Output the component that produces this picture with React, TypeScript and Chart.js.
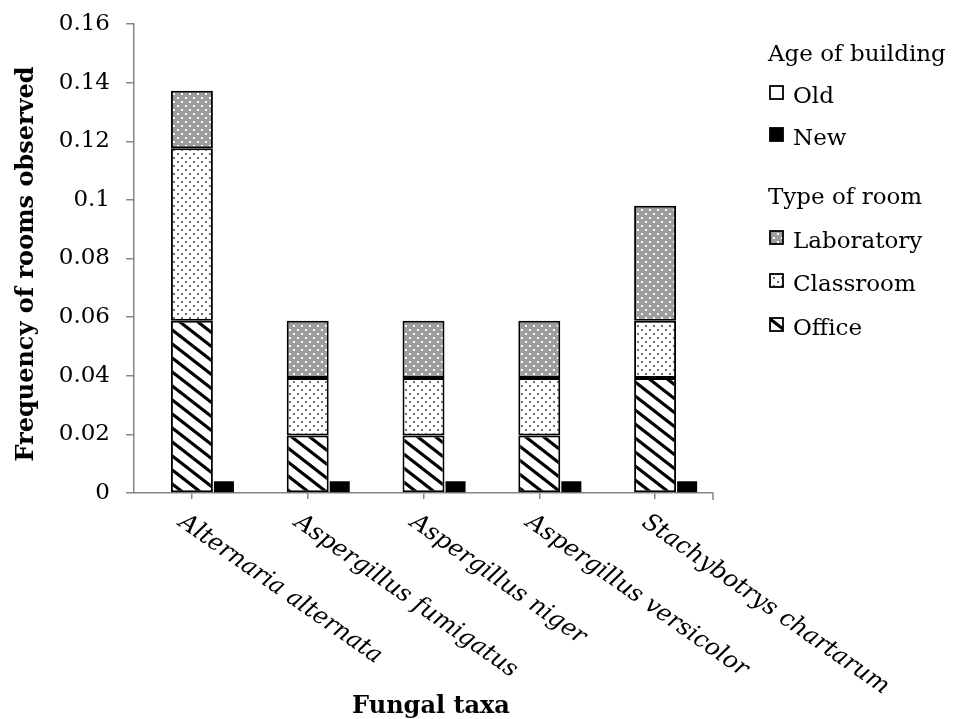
import React, { useEffect, useRef } from 'react';
import { Chart, registerables } from 'chart.js';

Chart.register(...registerables);

const categories = [
  'Alternaria alternata',
  'Aspergillus fumigatus',
  'Aspergillus niger',
  'Aspergillus versicolor',
  'Stachybotrys chartarum',
];
const officeValues = [0.0588, 0.0196, 0.0196, 0.0196, 0.0392];
const classroomValues = [0.0588, 0.0196, 0.0196, 0.0196, 0.0196];
const laboratoryValues = [0.0196, 0.0196, 0.0196, 0.0196, 0.0392];
const newBuildingValues = [0.004, 0.004, 0.004, 0.004, 0.004];
const yTickLabels = ['0', '0.02', '0.04', '0.06', '0.08', '0.1', '0.12', '0.14', '0.16'];
const ageLegendTitle = 'Age of building';
const ageLegendLabels = ['Old', 'New'];
const roomLegendTitle = 'Type of room';
const roomLegendLabels = ['Laboratory', 'Classroom', 'Office'];
const xAxisTitle = 'Fungal taxa';
const yAxisTitle = 'Frequency of rooms observed';

const SERIF = '"DejaVu Serif", "Liberation Serif", serif';
const AXIS = '#868686';
const CP = 0.83;

function makePattern(kind: string): CanvasPattern | string {
  const c = document.createElement('canvas');
  if (kind === 'office') {
    const w = 18, h = 14;
    c.width = w; c.height = h;
    const g = c.getContext('2d')!;
    g.fillStyle = '#fff';
    g.fillRect(0, 0, w, h);
    g.strokeStyle = '#000';
    g.lineWidth = 3.2;
    for (let k = -2; k <= 2; k++) {
      g.beginPath();
      g.moveTo(k * w - w, -h);
      g.lineTo(k * w + 2 * w, 2 * h);
      g.stroke();
    }
  } else if (kind === 'classroom') {
    const w = 8, h = 8;
    c.width = w; c.height = h;
    const g = c.getContext('2d')!;
    g.fillStyle = '#fff';
    g.fillRect(0, 0, w, h);
    g.fillStyle = '#707070';
    g.fillRect(1, 1, 2, 2);
    g.fillRect(5, 5, 2, 2);
  } else {
    const w = 8, h = 8;
    c.width = w; c.height = h;
    const g = c.getContext('2d')!;
    g.fillStyle = '#9e9e9e';
    g.fillRect(0, 0, w, h);
    g.fillStyle = '#8a8a8a';
    g.fillRect(3, 1, 1, 1);
    g.fillRect(7, 5, 1, 1);
    g.fillRect(1, 3, 1, 1);
    g.fillRect(5, 7, 1, 1);
    g.fillStyle = '#ffffff';
    g.fillRect(1, 1, 2, 2);
    g.fillRect(5, 5, 2, 2);
  }
  const ctx = document.createElement('canvas').getContext('2d')!;
  return ctx.createPattern(c, 'repeat') || '#999';
}

export default function App() {
  const ref = useRef<HTMLCanvasElement>(null);

  useEffect(() => {
    document.body.style.margin = '0';
    const canvas = ref.current!;
    const officeP = makePattern('office');
    const classroomP = makePattern('classroom');
    const labP = makePattern('laboratory');

    const overlay = {
      id: 'overlay',
      afterDraw(chart: any) {
        const { ctx, chartArea, scales } = chart;
        const xs = scales.x;
        ctx.save();
        // end tick of x axis
        ctx.strokeStyle = AXIS;
        ctx.lineWidth = 1.5;
        ctx.beginPath();
        ctx.moveTo(chartArea.right, chartArea.bottom);
        ctx.lineTo(chartArea.right, chartArea.bottom + 7);
        ctx.stroke();

        // rotated category labels
        ctx.fillStyle = '#000';
        ctx.font = `italic 24px ${SERIF}`;
        ctx.textAlign = 'left';
        ctx.textBaseline = 'top';
        categories.forEach((c, i) => {
          const px = xs.getPixelForValue(i);
          ctx.save();
          ctx.translate(px - 4, chartArea.bottom + 17);
          ctx.rotate((35 * Math.PI) / 180);
          ctx.fillText(c, 0, 0);
          ctx.restore();
        });

        // axis titles
        ctx.font = `bold 24px ${SERIF}`;
        ctx.textAlign = 'center';
        ctx.textBaseline = 'middle';
        ctx.fillText(xAxisTitle, 431, 707);
        ctx.save();
        ctx.translate(27, 264);
        ctx.rotate(-Math.PI / 2);
        ctx.fillText(yAxisTitle, 0, 0);
        ctx.restore();

        // legend
        ctx.font = `23px ${SERIF}`;
        ctx.textAlign = 'left';
        ctx.textBaseline = 'alphabetic';
        const boxX = 770;
        const textX = 793;
        ctx.fillText(ageLegendTitle, 768, 61);
        ctx.fillText(roomLegendTitle, 768, 204);
        const items = [
          { label: ageLegendLabels[0], fill: '#fff', y: 94 },
          { label: ageLegendLabels[1], fill: '#000', y: 136 },
          { label: roomLegendLabels[0], fill: labP, y: 239 },
          { label: roomLegendLabels[1], fill: classroomP, y: 282 },
          { label: roomLegendLabels[2], fill: officeP, y: 326 },
        ];
        items.forEach((it) => {
          ctx.fillStyle = it.fill as any;
          ctx.fillRect(boxX, it.y - 8, 13, 13);
          ctx.strokeStyle = '#000';
          ctx.lineWidth = 1.8;
          ctx.strokeRect(boxX, it.y - 8, 13, 13);
          ctx.fillStyle = '#000';
          ctx.fillText(it.label, textX, it.y + 9);
        });
        ctx.restore();
      },
    };

    const chart = new Chart(canvas, {
      type: 'bar',
      data: {
        labels: categories,
        datasets: [
          {
            label: 'pad',
            data: categories.map(() => 0),
            stack: 'pad',
            backgroundColor: 'rgba(0,0,0,0)',
            borderWidth: 0,
            categoryPercentage: CP,
            barPercentage: 0.1,
          },
          {
            label: roomLegendLabels[2],
            data: officeValues,
            stack: 'old',
            backgroundColor: officeP as any,
            borderColor: '#000',
            borderWidth: 2,
            borderSkipped: false,
            categoryPercentage: CP,
            barPercentage: 1.31,
          },
          {
            label: roomLegendLabels[1],
            data: classroomValues,
            stack: 'old',
            backgroundColor: classroomP as any,
            borderColor: '#000',
            borderWidth: 2,
            borderSkipped: false,
            categoryPercentage: CP,
            barPercentage: 1.31,
          },
          {
            label: roomLegendLabels[0],
            data: laboratoryValues,
            stack: 'old',
            backgroundColor: labP as any,
            borderColor: '#000',
            borderWidth: 2,
            borderSkipped: false,
            categoryPercentage: CP,
            barPercentage: 1.31,
          },
          {
            label: ageLegendLabels[1],
            data: newBuildingValues,
            stack: 'new',
            backgroundColor: '#000',
            borderWidth: 0,
            categoryPercentage: CP,
            barPercentage: 0.625,
          },
        ],
      },
      options: {
        responsive: false,
        animation: false,
        layout: { padding: { top: 24, right: 249, left: 0, bottom: 0 } },
        plugins: {
          legend: { display: false },
          tooltip: { enabled: false },
        },
        scales: {
          x: {
            type: 'category',
            stacked: true,
            offset: true,
            grid: {
              display: true,
              drawOnChartArea: false,
              drawTicks: true,
              tickLength: 6,
              offset: false,
              color: AXIS,
              lineWidth: 1.5,
            },
            border: { display: true, color: AXIS, width: 1.5 },
            ticks: { display: false },
            afterFit: (scale: any) => {
              scale.height = 719 - 493;
            },
          },
          y: {
            min: 0,
            max: 0.16,
            stacked: true,
            grid: {
              drawOnChartArea: false,
              drawTicks: true,
              tickLength: 8,
              color: AXIS,
              lineWidth: 1.5,
            },
            border: { display: true, color: AXIS, width: 1.5 },
            ticks: {
              stepSize: 0.02,
              padding: 16,
              color: '#000',
              font: { family: SERIF, size: 23 },
              callback: (_v: any, i: number) => yTickLabels[i] ?? '',
            },
            afterFit: (scale: any) => {
              scale.width = 134;
              scale.paddingTop = 10;
              scale.paddingBottom = 10;
            },
          },
        },
      },
      plugins: [overlay],
    } as any);

    return () => chart.destroy();
  }, []);

  return (
    <div style={{ width: 962, height: 719, position: 'relative', background: '#fff' }}>
      <canvas ref={ref} width={962} height={719} style={{ display: 'block', width: 962, height: 719 }} />
    </div>
  );
}
